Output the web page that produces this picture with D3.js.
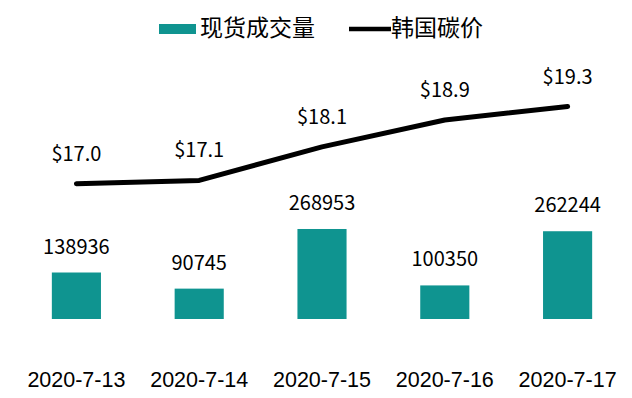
<!DOCTYPE html>
<html>
<head>
<meta charset="utf-8">
<script src="https://cdn.jsdelivr.net/npm/d3@7"></script>
<style>
  body { margin: 0; background: #fff; }
  svg { display: block; font-family: "Noto Sans CJK SC", "Noto Sans", sans-serif; }
  .valueText { font-size: 20px; fill: #000; text-anchor: middle; }
  .axisText { font-size: 21.5px; fill: #000; text-anchor: middle; }
  .legendText { font-size: 23px; fill: #000; }
</style>
</head>
<body>
<svg width="632" height="398"></svg>
<script>
var WIDTH = 632, HEIGHT = 398;
var BAR_COLOR = "#0f9490";

var dates = ["2020-7-13", "2020-7-14", "2020-7-15", "2020-7-16", "2020-7-17"];
var volumes = [138936, 90745, 268953, 100350, 262244];
var prices = [17.0, 17.1, 18.1, 18.9, 19.3];
var legendNames = ["现货成交量", "韩国碳价"];

var svg = d3.select("svg");

var x = d3.scaleBand()
  .domain(dates)
  .range([15, 629])
  .paddingInner(0.6)
  .paddingOuter(0.3);

// volume axis (hidden)
var yBar = d3.scaleLinear()
  .domain([0, 300000])
  .range([319, 218.6]);

// price axis (hidden, secondary)
var yLine = d3.scaleLinear()
  .domain([15, 20])
  .range([251, 83]);

function drawBars () {
  svg.append("g").selectAll("rect")
    .data(volumes)
    .join("rect")
    .attr("x", function (d, i) { return x(dates[i]); })
    .attr("y", function (d) { return yBar(d); })
    .attr("width", x.bandwidth())
    .attr("height", function (d) { return yBar(0) - yBar(d); })
    .attr("fill", BAR_COLOR);

  svg.append("g").selectAll("text")
    .data(volumes)
    .join("text")
    .attr("class", "valueText")
    .attr("x", function (d, i) { return x(dates[i]) + x.bandwidth() / 2; })
    .attr("y", function (d) { return yBar(d) - 19; })
    .text(function (d) { return d; });
}

function drawLine () {
  var line = d3.line()
    .x(function (d, i) { return x(dates[i]) + x.bandwidth() / 2; })
    .y(function (d) { return yLine(d); });

  svg.append("path")
    .datum(prices)
    .attr("d", line)
    .attr("fill", "none")
    .attr("stroke", "#000")
    .attr("stroke-width", 5)
    .attr("stroke-linecap", "round")
    .attr("stroke-linejoin", "round");

  svg.append("g").selectAll("text")
    .data(prices)
    .join("text")
    .attr("class", "valueText")
    .attr("x", function (d, i) { return x(dates[i]) + x.bandwidth() / 2; })
    .attr("y", function (d) { return yLine(d) - 23; })
    .text(function (d) { return "$" + d.toFixed(1); });
}

function drawAxis () {
  var axis = d3.axisBottom(x).tickSize(0).tickPadding(0);
  var g = svg.append("g")
    .attr("transform", "translate(0,370)")
    .call(axis);
  g.select(".domain").remove();
  g.selectAll("text")
    .attr("class", "axisText")
    .attr("dy", "0")
    .attr("y", 17)
    .attr("font-family", null)
    .attr("font-size", null)
    .attr("fill", "#000");
}

function drawLegend () {
  svg.append("rect")
    .attr("x", 159)
    .attr("y", 24)
    .attr("width", 37)
    .attr("height", 10)
    .attr("fill", BAR_COLOR);
  svg.append("text")
    .attr("class", "legendText")
    .attr("x", 200)
    .attr("y", 36)
    .text(legendNames[0]);

  svg.append("line")
    .attr("x1", 349)
    .attr("x2", 391)
    .attr("y1", 29)
    .attr("y2", 29)
    .attr("stroke", "#000")
    .attr("stroke-width", 4.5);
  svg.append("text")
    .attr("class", "legendText")
    .attr("x", 391)
    .attr("y", 36)
    .text(legendNames[1]);
}

drawBars();
drawLine();
drawAxis();
drawLegend();
</script>
</body>
</html>
